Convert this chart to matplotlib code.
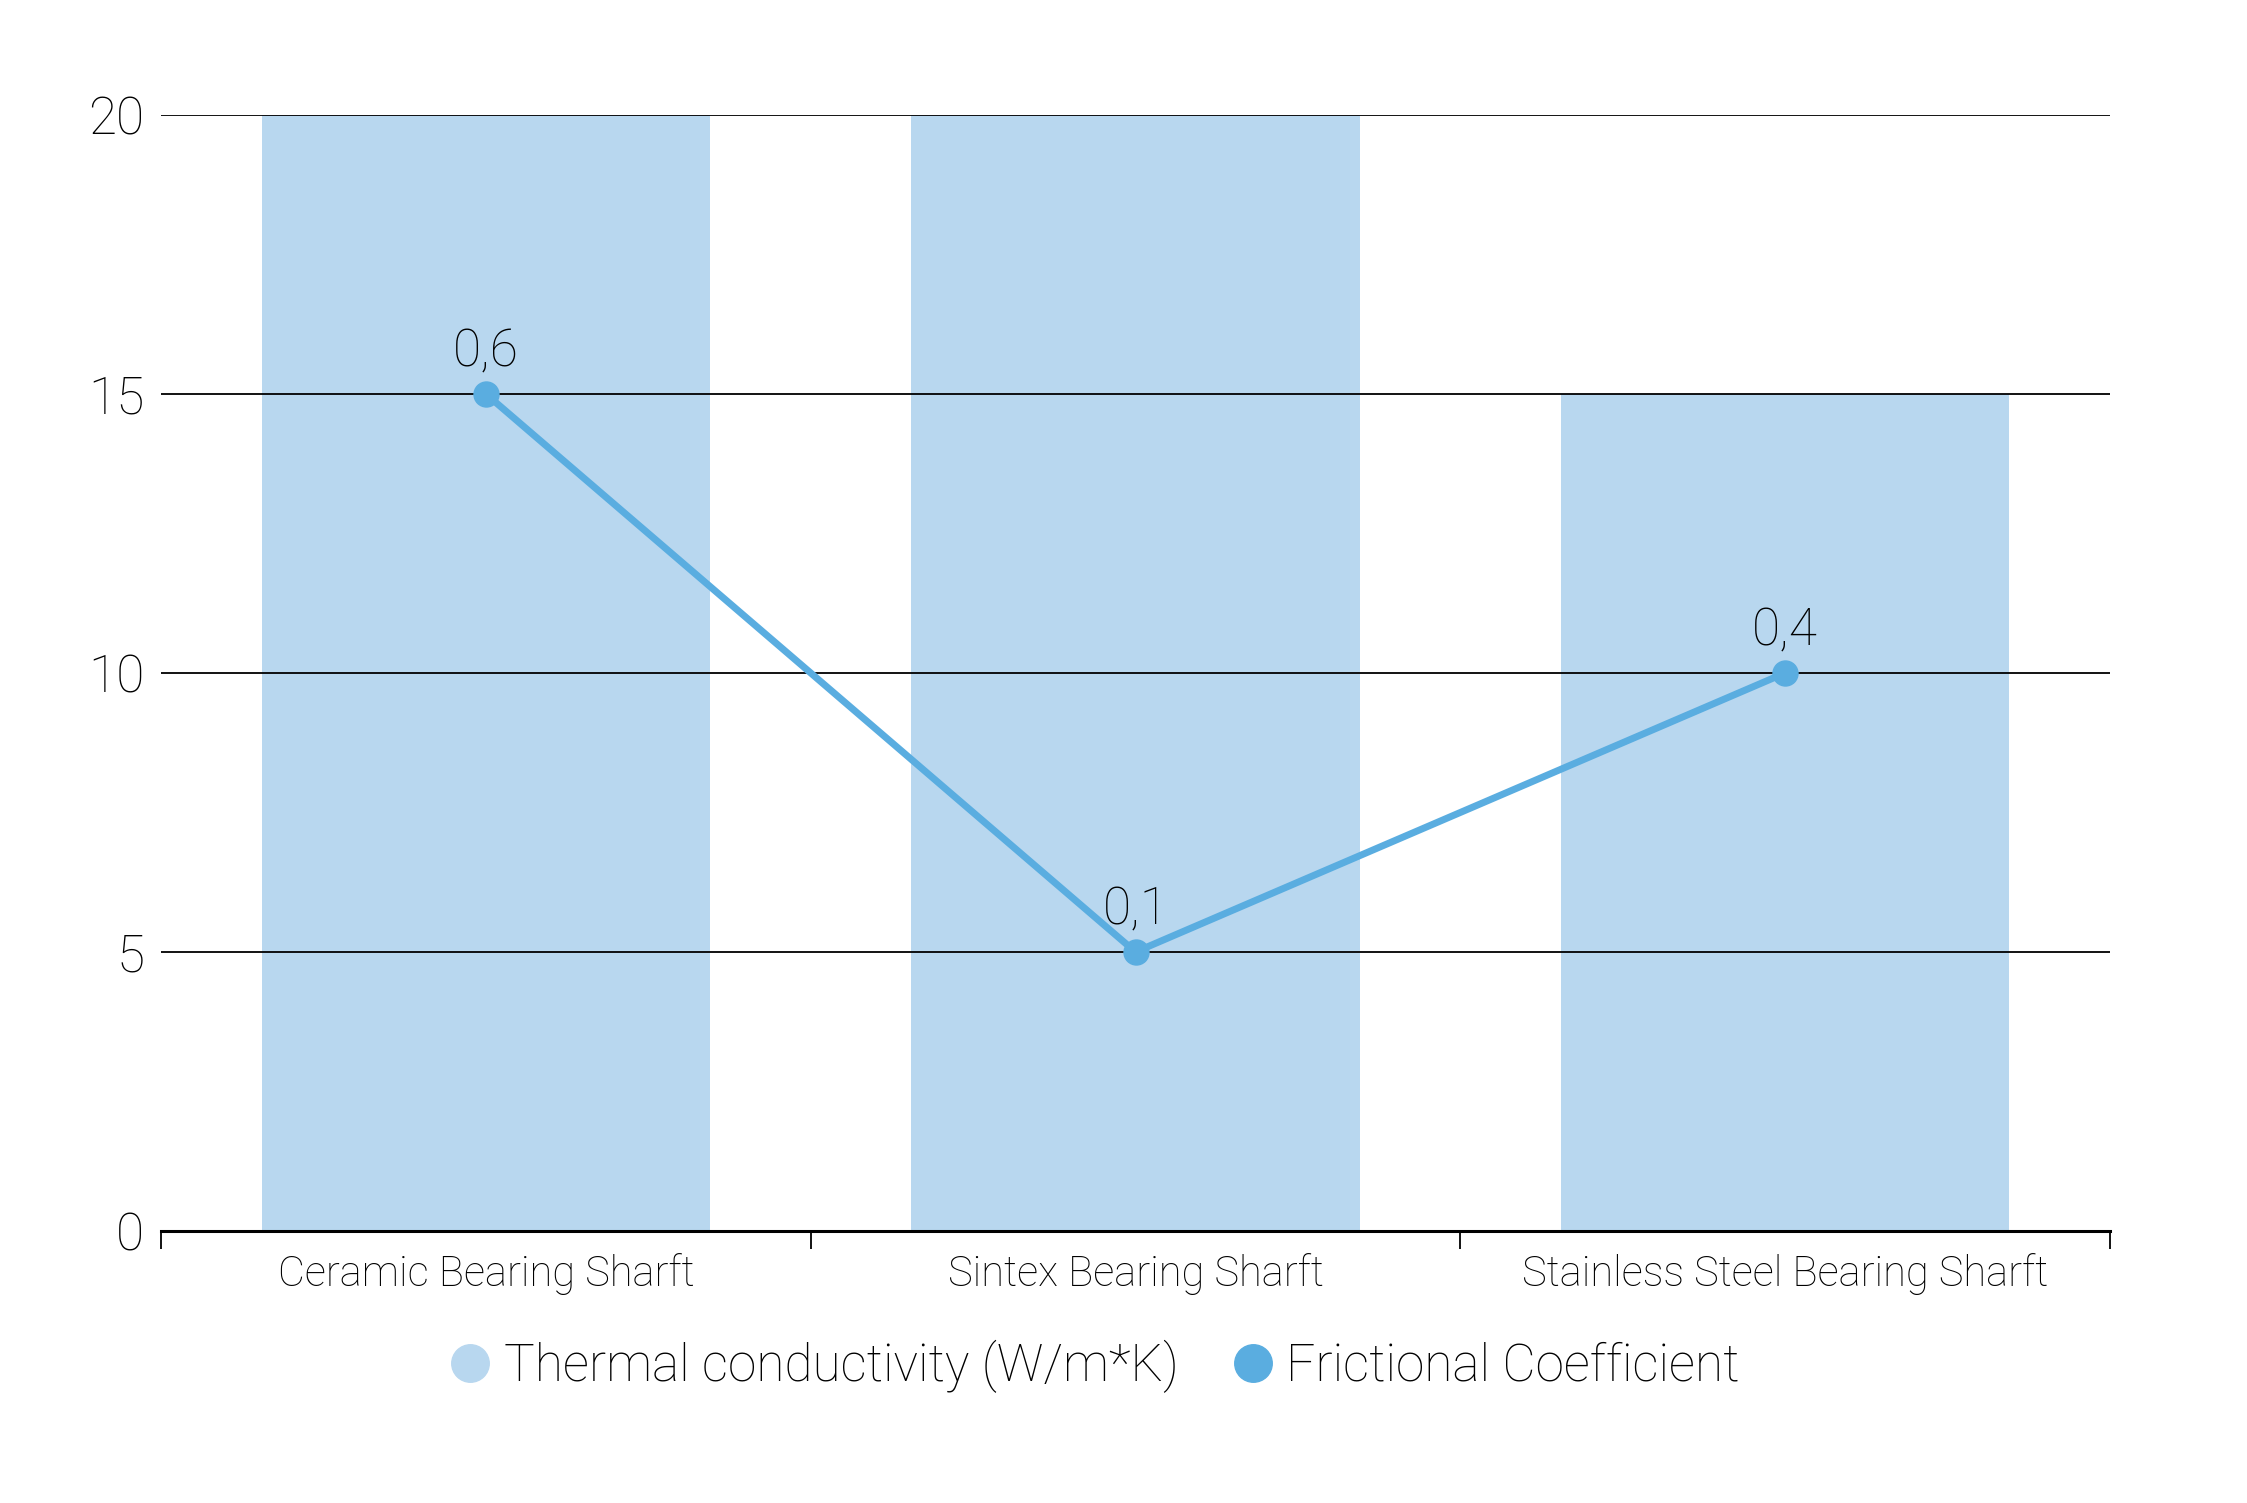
import matplotlib.pyplot as plt
from matplotlib.lines import Line2D
import numpy as np

categories = ['Ceramic Bearing Sharft', 'Sintex Bearing Sharft', 'Stainless Steel Bearing Sharft']
thermal = [20, 20, 15]
friction_pos = [15, 5, 10]
friction_labels = ['0,6', '0,1', '0,4']

bar_color = '#b8d7ef'
line_color = '#5aade0'

plt.rcParams['font.family'] = ['Roboto', 'DejaVu Sans']

fig = plt.figure(figsize=(22.47, 15.03), dpi=100)
ax = fig.add_axes([0.0717, 0.181, 0.8673, 0.7425])

x = np.arange(len(categories))
ax.bar(x, thermal, width=0.69, color=bar_color, zorder=1)
ax.plot(x, friction_pos, color=line_color, lw=5, marker='o', ms=18, zorder=4)
for xi, yi, lab in zip(x, friction_pos, friction_labels):
    ax.annotate(lab, (xi, yi), xytext=(0, 12), textcoords='offset points',
                ha='center', va='bottom', fontsize=37, fontweight='light', color='black')

ax.set_xlim(-0.5, 2.5)
ax.set_ylim(0, 20)
ax.set_yticks([0, 5, 10, 15, 20])
ax.set_axisbelow(False)
ax.grid(axis='y', color='black', lw=1.3)
ax.tick_params(axis='y', length=0, labelsize=37, pad=12)
for t in ax.get_yticklabels():
    t.set_fontweight('light')

ax.set_xticks([-0.5, 0.5, 1.5, 2.5])
ax.set_xticklabels([])
ax.set_xticks(x, minor=True)
ax.set_xticklabels(categories, minor=True, fontsize=30, fontweight='light')
ax.tick_params(axis='x', which='major', length=13, width=1.3, direction='out')
ax.tick_params(axis='x', which='minor', length=0, pad=16)

for s in ['top', 'right', 'left']:
    ax.spines[s].set_visible(False)
ax.spines['bottom'].set_linewidth(2.2)
ax.spines['bottom'].set_zorder(5)

handles = [Line2D([], [], ls='none', marker='o', ms=27, color=bar_color),
           Line2D([], [], ls='none', marker='o', ms=27, color=line_color)]
fig.legend(handles, ['Thermal conductivity (W/m*K)', 'Frictional Coefficient'],
           loc='center', bbox_to_anchor=(0.486, 0.091), ncol=2, frameon=False,
           prop={'size': 37, 'weight': 'light'}, handletextpad=0.15, columnspacing=0.95,
           handlelength=1.0)

fig.savefig('out.png', dpi=100)
